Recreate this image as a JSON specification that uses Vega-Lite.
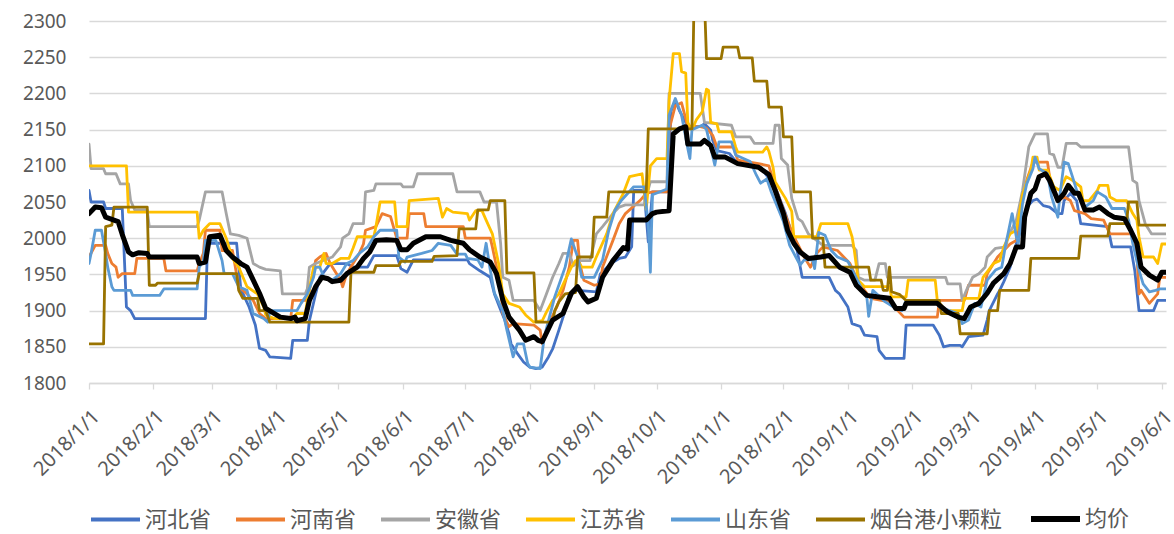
{
  "$schema": "https://vega.github.io/schema/vega-lite/v6.json",
  "width": 1077,
  "height": 362,
  "autosize": {"type": "none"},
  "padding": {"left": 89, "top": 21, "right": 8, "bottom": 151},
  "background": "#ffffff",
  "datasets": {
    "hebei": [
      {"d": "2018/1/1", "v": 2066}, {"d": "2018/1/2", "v": 2050}, {"d": "2018/1/8", "v": 2050}, {"d": "2018/1/9", "v": 2041},
      {"d": "2018/1/17", "v": 2041}, {"d": "2018/1/19", "v": 1905}, {"d": "2018/1/21", "v": 1900}, {"d": "2018/1/23", "v": 1889},
      {"d": "2018/2/26", "v": 1889}, {"d": "2018/2/27", "v": 1993}, {"d": "2018/3/13", "v": 1993}, {"d": "2018/3/15", "v": 1930},
      {"d": "2018/3/19", "v": 1905}, {"d": "2018/3/22", "v": 1880}, {"d": "2018/3/24", "v": 1848}, {"d": "2018/3/27", "v": 1845},
      {"d": "2018/3/29", "v": 1836}, {"d": "2018/4/8", "v": 1834}, {"d": "2018/4/9", "v": 1859}, {"d": "2018/4/16", "v": 1859},
      {"d": "2018/4/17", "v": 1886}, {"d": "2018/4/20", "v": 1923}, {"d": "2018/4/22", "v": 1946}, {"d": "2018/4/27", "v": 1965},
      {"d": "2018/5/5", "v": 1965}, {"d": "2018/5/8", "v": 1960}, {"d": "2018/5/15", "v": 1960}, {"d": "2018/5/18", "v": 1976},
      {"d": "2018/5/29", "v": 1976}, {"d": "2018/5/31", "v": 1958}, {"d": "2018/6/3", "v": 1953}, {"d": "2018/6/6", "v": 1970},
      {"d": "2018/7/2", "v": 1970}, {"d": "2018/7/3", "v": 1965}, {"d": "2018/7/8", "v": 1955}, {"d": "2018/7/13", "v": 1946},
      {"d": "2018/7/15", "v": 1923}, {"d": "2018/7/18", "v": 1901}, {"d": "2018/7/20", "v": 1887}, {"d": "2018/7/22", "v": 1868},
      {"d": "2018/7/23", "v": 1854}, {"d": "2018/7/26", "v": 1841}, {"d": "2018/7/29", "v": 1829}, {"d": "2018/8/1", "v": 1822},
      {"d": "2018/8/4", "v": 1820}, {"d": "2018/8/7", "v": 1822}, {"d": "2018/8/10", "v": 1836}, {"d": "2018/8/12", "v": 1847},
      {"d": "2018/8/15", "v": 1873}, {"d": "2018/8/17", "v": 1891}, {"d": "2018/8/20", "v": 1923}, {"d": "2018/8/24", "v": 1928},
      {"d": "2018/9/2", "v": 1926}, {"d": "2018/9/4", "v": 1951}, {"d": "2018/9/9", "v": 1965}, {"d": "2018/9/13", "v": 1972},
      {"d": "2018/9/16", "v": 1974}, {"d": "2018/9/19", "v": 1988}, {"d": "2018/9/20", "v": 2066}, {"d": "2018/9/25", "v": 2066},
      {"d": "2018/9/27", "v": 1995}, {"d": "2018/9/29", "v": 2064}, {"d": "2018/10/6", "v": 2064}, {"d": "2018/10/8", "v": 2176},
      {"d": "2018/10/10", "v": 2190}, {"d": "2018/10/12", "v": 2176}, {"d": "2018/10/15", "v": 2160}, {"d": "2018/10/17", "v": 2154},
      {"d": "2018/10/22", "v": 2154}, {"d": "2018/10/24", "v": 2158}, {"d": "2018/10/27", "v": 2149}, {"d": "2018/10/28", "v": 2135},
      {"d": "2018/10/30", "v": 2121}, {"d": "2018/11/5", "v": 2117}, {"d": "2018/11/9", "v": 2103}, {"d": "2018/11/20", "v": 2098},
      {"d": "2018/11/27", "v": 2071}, {"d": "2018/12/2", "v": 2034}, {"d": "2018/12/4", "v": 2016}, {"d": "2018/12/7", "v": 1992},
      {"d": "2018/12/10", "v": 1946}, {"d": "2018/12/23", "v": 1946}, {"d": "2018/12/26", "v": 1928}, {"d": "2018/12/28", "v": 1923},
      {"d": "2019/1/1", "v": 1905}, {"d": "2019/1/3", "v": 1882}, {"d": "2019/1/7", "v": 1878}, {"d": "2019/1/9", "v": 1866},
      {"d": "2019/1/15", "v": 1864}, {"d": "2019/1/16", "v": 1845}, {"d": "2019/1/19", "v": 1834}, {"d": "2019/1/28", "v": 1834},
      {"d": "2019/1/29", "v": 1880}, {"d": "2019/2/11", "v": 1880}, {"d": "2019/2/14", "v": 1866}, {"d": "2019/2/16", "v": 1850},
      {"d": "2019/2/19", "v": 1852}, {"d": "2019/2/24", "v": 1852}, {"d": "2019/2/25", "v": 1850}, {"d": "2019/2/28", "v": 1864},
      {"d": "2019/3/7", "v": 1866}, {"d": "2019/3/9", "v": 1887}, {"d": "2019/3/10", "v": 1900}, {"d": "2019/3/14", "v": 1923},
      {"d": "2019/3/15", "v": 1928}, {"d": "2019/3/17", "v": 1940}, {"d": "2019/3/20", "v": 1960}, {"d": "2019/3/22", "v": 1983},
      {"d": "2019/3/25", "v": 2011}, {"d": "2019/3/28", "v": 2043}, {"d": "2019/3/31", "v": 2052}, {"d": "2019/4/2", "v": 2054},
      {"d": "2019/4/5", "v": 2045}, {"d": "2019/4/8", "v": 2043}, {"d": "2019/4/12", "v": 2034}, {"d": "2019/4/14", "v": 2034},
      {"d": "2019/4/15", "v": 2052}, {"d": "2019/4/18", "v": 2062}, {"d": "2019/4/21", "v": 2052}, {"d": "2019/4/23", "v": 2020},
      {"d": "2019/5/6", "v": 2016}, {"d": "2019/5/8", "v": 1988}, {"d": "2019/5/17", "v": 1988}, {"d": "2019/5/19", "v": 1955},
      {"d": "2019/5/21", "v": 1900}, {"d": "2019/5/28", "v": 1900}, {"d": "2019/5/30", "v": 1914}, {"d": "2019/6/3", "v": 1914}
    ],
    "henan": [
      {"d": "2018/1/1", "v": 1974}, {"d": "2018/1/4", "v": 1990}, {"d": "2018/1/9", "v": 1990}, {"d": "2018/1/10", "v": 1979},
      {"d": "2018/1/12", "v": 1965}, {"d": "2018/1/14", "v": 1960}, {"d": "2018/1/15", "v": 1946}, {"d": "2018/1/17", "v": 1951},
      {"d": "2018/1/23", "v": 1951}, {"d": "2018/1/24", "v": 1972}, {"d": "2018/2/6", "v": 1972}, {"d": "2018/2/7", "v": 1955},
      {"d": "2018/2/22", "v": 1955}, {"d": "2018/2/23", "v": 1965}, {"d": "2018/2/25", "v": 1979}, {"d": "2018/2/26", "v": 2011},
      {"d": "2018/3/5", "v": 2011}, {"d": "2018/3/6", "v": 1983}, {"d": "2018/3/11", "v": 1983}, {"d": "2018/3/14", "v": 1933},
      {"d": "2018/3/18", "v": 1923}, {"d": "2018/3/21", "v": 1914}, {"d": "2018/3/24", "v": 1896}, {"d": "2018/3/27", "v": 1889},
      {"d": "2018/4/8", "v": 1889}, {"d": "2018/4/9", "v": 1914}, {"d": "2018/4/16", "v": 1914}, {"d": "2018/4/17", "v": 1928},
      {"d": "2018/4/20", "v": 1969}, {"d": "2018/4/22", "v": 1974}, {"d": "2018/4/25", "v": 1979}, {"d": "2018/4/27", "v": 1965},
      {"d": "2018/5/2", "v": 1942}, {"d": "2018/5/3", "v": 1933}, {"d": "2018/5/5", "v": 1951}, {"d": "2018/5/8", "v": 1965},
      {"d": "2018/5/11", "v": 1979}, {"d": "2018/5/13", "v": 1992}, {"d": "2018/5/14", "v": 2011}, {"d": "2018/5/19", "v": 2016},
      {"d": "2018/5/22", "v": 2034}, {"d": "2018/5/26", "v": 2030}, {"d": "2018/5/29", "v": 2000}, {"d": "2018/6/3", "v": 2000},
      {"d": "2018/6/4", "v": 2034}, {"d": "2018/6/11", "v": 2034}, {"d": "2018/6/12", "v": 2016}, {"d": "2018/6/30", "v": 2016},
      {"d": "2018/7/1", "v": 2000}, {"d": "2018/7/13", "v": 2000}, {"d": "2018/7/14", "v": 1988}, {"d": "2018/7/18", "v": 1933},
      {"d": "2018/7/19", "v": 1896}, {"d": "2018/7/22", "v": 1878}, {"d": "2018/7/24", "v": 1882}, {"d": "2018/8/3", "v": 1880},
      {"d": "2018/8/6", "v": 1873}, {"d": "2018/8/7", "v": 1854}, {"d": "2018/8/9", "v": 1869}, {"d": "2018/8/11", "v": 1887},
      {"d": "2018/8/14", "v": 1905}, {"d": "2018/8/17", "v": 1928}, {"d": "2018/8/20", "v": 1960}, {"d": "2018/8/22", "v": 1997},
      {"d": "2018/8/24", "v": 1997}, {"d": "2018/8/25", "v": 1965}, {"d": "2018/8/27", "v": 1942}, {"d": "2018/9/1", "v": 1935},
      {"d": "2018/9/4", "v": 1937}, {"d": "2018/9/5", "v": 1960}, {"d": "2018/9/10", "v": 1997}, {"d": "2018/9/13", "v": 2020},
      {"d": "2018/9/16", "v": 2034}, {"d": "2018/9/23", "v": 2052}, {"d": "2018/9/26", "v": 2062}, {"d": "2018/9/29", "v": 2064},
      {"d": "2018/10/6", "v": 2064}, {"d": "2018/10/7", "v": 2150}, {"d": "2018/10/10", "v": 2183}, {"d": "2018/10/13", "v": 2187},
      {"d": "2018/10/16", "v": 2154}, {"d": "2018/10/22", "v": 2154}, {"d": "2018/10/25", "v": 2152}, {"d": "2018/10/28", "v": 2142},
      {"d": "2018/10/30", "v": 2126}, {"d": "2018/11/7", "v": 2126}, {"d": "2018/11/9", "v": 2108}, {"d": "2018/11/19", "v": 2103},
      {"d": "2018/11/24", "v": 2100}, {"d": "2018/11/27", "v": 2071}, {"d": "2018/12/1", "v": 2039}, {"d": "2018/12/4", "v": 2016},
      {"d": "2018/12/7", "v": 1997}, {"d": "2018/12/11", "v": 1974}, {"d": "2018/12/14", "v": 1960}, {"d": "2018/12/17", "v": 1979},
      {"d": "2018/12/20", "v": 1988}, {"d": "2018/12/27", "v": 1983}, {"d": "2019/1/2", "v": 1965}, {"d": "2019/1/5", "v": 1946},
      {"d": "2019/1/9", "v": 1928}, {"d": "2019/1/12", "v": 1917}, {"d": "2019/1/21", "v": 1912}, {"d": "2019/1/28", "v": 1891},
      {"d": "2019/2/13", "v": 1891}, {"d": "2019/2/14", "v": 1914}, {"d": "2019/2/26", "v": 1914}, {"d": "2019/2/28", "v": 1935},
      {"d": "2019/3/8", "v": 1935}, {"d": "2019/3/9", "v": 1951}, {"d": "2019/3/14", "v": 1974}, {"d": "2019/3/20", "v": 1992},
      {"d": "2019/3/23", "v": 1997}, {"d": "2019/3/25", "v": 2043}, {"d": "2019/3/28", "v": 2080}, {"d": "2019/3/31", "v": 2105},
      {"d": "2019/4/7", "v": 2105}, {"d": "2019/4/8", "v": 2085}, {"d": "2019/4/12", "v": 2052}, {"d": "2019/4/15", "v": 2057},
      {"d": "2019/4/18", "v": 2052}, {"d": "2019/4/20", "v": 2038}, {"d": "2019/4/25", "v": 2034}, {"d": "2019/4/28", "v": 2027},
      {"d": "2019/5/4", "v": 2025}, {"d": "2019/5/7", "v": 2006}, {"d": "2019/5/18", "v": 2006}, {"d": "2019/5/20", "v": 1979},
      {"d": "2019/5/21", "v": 1923}, {"d": "2019/5/22", "v": 1928}, {"d": "2019/5/26", "v": 1910}, {"d": "2019/5/30", "v": 1923},
      {"d": "2019/5/31", "v": 1946}, {"d": "2019/6/3", "v": 1946}
    ],
    "anhui": [
      {"d": "2018/1/1", "v": 2130}, {"d": "2018/1/2", "v": 2096}, {"d": "2018/1/8", "v": 2096}, {"d": "2018/1/9", "v": 2089},
      {"d": "2018/1/14", "v": 2089}, {"d": "2018/1/16", "v": 2075}, {"d": "2018/1/20", "v": 2075}, {"d": "2018/1/21", "v": 2052},
      {"d": "2018/1/23", "v": 2039}, {"d": "2018/1/29", "v": 2039}, {"d": "2018/1/30", "v": 2016}, {"d": "2018/2/22", "v": 2016},
      {"d": "2018/2/23", "v": 2025}, {"d": "2018/2/26", "v": 2064}, {"d": "2018/3/6", "v": 2064}, {"d": "2018/3/8", "v": 2034},
      {"d": "2018/3/10", "v": 2006}, {"d": "2018/3/14", "v": 2004}, {"d": "2018/3/18", "v": 2000}, {"d": "2018/3/21", "v": 1965},
      {"d": "2018/3/24", "v": 1960}, {"d": "2018/3/27", "v": 1957}, {"d": "2018/4/3", "v": 1955}, {"d": "2018/4/4", "v": 1923},
      {"d": "2018/4/15", "v": 1923}, {"d": "2018/4/16", "v": 1930}, {"d": "2018/4/17", "v": 1960}, {"d": "2018/4/20", "v": 1965},
      {"d": "2018/4/28", "v": 1974}, {"d": "2018/5/2", "v": 1988}, {"d": "2018/5/3", "v": 2000}, {"d": "2018/5/6", "v": 2006},
      {"d": "2018/5/8", "v": 2020}, {"d": "2018/5/13", "v": 2020}, {"d": "2018/5/14", "v": 2064}, {"d": "2018/5/18", "v": 2066},
      {"d": "2018/5/19", "v": 2075}, {"d": "2018/5/31", "v": 2075}, {"d": "2018/6/1", "v": 2071}, {"d": "2018/6/6", "v": 2071},
      {"d": "2018/6/8", "v": 2089}, {"d": "2018/6/25", "v": 2089}, {"d": "2018/6/27", "v": 2064}, {"d": "2018/7/8", "v": 2064},
      {"d": "2018/7/10", "v": 2050}, {"d": "2018/7/16", "v": 2050}, {"d": "2018/7/18", "v": 1992}, {"d": "2018/7/19", "v": 1946},
      {"d": "2018/7/22", "v": 1942}, {"d": "2018/7/24", "v": 1914}, {"d": "2018/8/3", "v": 1914}, {"d": "2018/8/6", "v": 1900},
      {"d": "2018/8/9", "v": 1923}, {"d": "2018/8/12", "v": 1946}, {"d": "2018/8/15", "v": 1965}, {"d": "2018/8/17", "v": 1979},
      {"d": "2018/8/20", "v": 1979}, {"d": "2018/8/22", "v": 1962}, {"d": "2018/8/25", "v": 1969}, {"d": "2018/8/30", "v": 1969},
      {"d": "2018/9/2", "v": 2006}, {"d": "2018/9/5", "v": 2016}, {"d": "2018/9/10", "v": 2034}, {"d": "2018/9/13", "v": 2043},
      {"d": "2018/9/16", "v": 2046}, {"d": "2018/9/25", "v": 2046}, {"d": "2018/9/28", "v": 2078}, {"d": "2018/10/6", "v": 2078},
      {"d": "2018/10/7", "v": 2200}, {"d": "2018/10/22", "v": 2200}, {"d": "2018/10/23", "v": 2180}, {"d": "2018/10/24", "v": 2160},
      {"d": "2018/11/6", "v": 2156}, {"d": "2018/11/8", "v": 2140}, {"d": "2018/11/15", "v": 2140}, {"d": "2018/11/17", "v": 2131},
      {"d": "2018/11/26", "v": 2131}, {"d": "2018/11/27", "v": 2156}, {"d": "2018/11/29", "v": 2156}, {"d": "2018/11/30", "v": 2110},
      {"d": "2018/12/3", "v": 2101}, {"d": "2018/12/5", "v": 2055}, {"d": "2018/12/8", "v": 2027}, {"d": "2018/12/10", "v": 2023},
      {"d": "2018/12/13", "v": 2006}, {"d": "2018/12/20", "v": 1990}, {"d": "2019/1/3", "v": 1990}, {"d": "2019/1/5", "v": 1983},
      {"d": "2019/1/6", "v": 1946}, {"d": "2019/1/9", "v": 1942}, {"d": "2019/1/14", "v": 1942}, {"d": "2019/1/16", "v": 1965},
      {"d": "2019/1/19", "v": 1965}, {"d": "2019/1/20", "v": 1946}, {"d": "2019/2/17", "v": 1946}, {"d": "2019/2/18", "v": 1937},
      {"d": "2019/2/24", "v": 1937}, {"d": "2019/2/25", "v": 1914}, {"d": "2019/2/27", "v": 1928}, {"d": "2019/3/2", "v": 1946},
      {"d": "2019/3/5", "v": 1951}, {"d": "2019/3/8", "v": 1960}, {"d": "2019/3/9", "v": 1974}, {"d": "2019/3/13", "v": 1986},
      {"d": "2019/3/18", "v": 1988}, {"d": "2019/3/19", "v": 2002}, {"d": "2019/3/23", "v": 2025}, {"d": "2019/3/26", "v": 2066},
      {"d": "2019/3/29", "v": 2126}, {"d": "2019/4/1", "v": 2144}, {"d": "2019/4/7", "v": 2144}, {"d": "2019/4/8", "v": 2117},
      {"d": "2019/4/10", "v": 2115}, {"d": "2019/4/12", "v": 2098}, {"d": "2019/4/14", "v": 2098}, {"d": "2019/4/16", "v": 2131},
      {"d": "2019/4/21", "v": 2131}, {"d": "2019/4/23", "v": 2126}, {"d": "2019/5/16", "v": 2126}, {"d": "2019/5/18", "v": 2080},
      {"d": "2019/5/20", "v": 2076}, {"d": "2019/5/21", "v": 2052}, {"d": "2019/5/24", "v": 2020}, {"d": "2019/5/27", "v": 2006},
      {"d": "2019/6/3", "v": 2006}
    ],
    "jiangsu": [
      {"d": "2018/1/1", "v": 2100}, {"d": "2018/1/19", "v": 2100}, {"d": "2018/1/20", "v": 2036}, {"d": "2018/2/22", "v": 2036},
      {"d": "2018/2/23", "v": 2000}, {"d": "2018/2/25", "v": 2011}, {"d": "2018/2/28", "v": 2020}, {"d": "2018/3/5", "v": 2020},
      {"d": "2018/3/8", "v": 2000}, {"d": "2018/3/11", "v": 1972}, {"d": "2018/3/14", "v": 1960}, {"d": "2018/3/18", "v": 1933},
      {"d": "2018/3/23", "v": 1923}, {"d": "2018/3/26", "v": 1905}, {"d": "2018/3/27", "v": 1894}, {"d": "2018/3/31", "v": 1889},
      {"d": "2018/4/9", "v": 1889}, {"d": "2018/4/11", "v": 1896}, {"d": "2018/4/15", "v": 1896}, {"d": "2018/4/16", "v": 1914},
      {"d": "2018/4/19", "v": 1960}, {"d": "2018/4/22", "v": 1960}, {"d": "2018/4/24", "v": 1979}, {"d": "2018/4/25", "v": 1965},
      {"d": "2018/4/28", "v": 1965}, {"d": "2018/5/2", "v": 1972}, {"d": "2018/5/6", "v": 1972}, {"d": "2018/5/8", "v": 1986},
      {"d": "2018/5/10", "v": 2002}, {"d": "2018/5/18", "v": 2002}, {"d": "2018/5/19", "v": 2016}, {"d": "2018/5/21", "v": 2050},
      {"d": "2018/5/28", "v": 2050}, {"d": "2018/5/29", "v": 2016}, {"d": "2018/6/3", "v": 2016}, {"d": "2018/6/4", "v": 2052},
      {"d": "2018/6/18", "v": 2055}, {"d": "2018/6/20", "v": 2029}, {"d": "2018/6/22", "v": 2041}, {"d": "2018/6/25", "v": 2036},
      {"d": "2018/7/2", "v": 2034}, {"d": "2018/7/3", "v": 2025}, {"d": "2018/7/6", "v": 2038}, {"d": "2018/7/9", "v": 2038},
      {"d": "2018/7/11", "v": 2025}, {"d": "2018/7/14", "v": 2006}, {"d": "2018/7/17", "v": 1965}, {"d": "2018/7/19", "v": 1923},
      {"d": "2018/7/22", "v": 1910}, {"d": "2018/7/27", "v": 1905}, {"d": "2018/7/30", "v": 1894}, {"d": "2018/8/3", "v": 1884},
      {"d": "2018/8/7", "v": 1886}, {"d": "2018/8/9", "v": 1898}, {"d": "2018/8/12", "v": 1914}, {"d": "2018/8/15", "v": 1923},
      {"d": "2018/8/18", "v": 1942}, {"d": "2018/8/21", "v": 1960}, {"d": "2018/8/23", "v": 1969}, {"d": "2018/8/25", "v": 1965},
      {"d": "2018/8/26", "v": 1960}, {"d": "2018/8/31", "v": 1960}, {"d": "2018/9/2", "v": 1974}, {"d": "2018/9/7", "v": 2006},
      {"d": "2018/9/10", "v": 2034}, {"d": "2018/9/15", "v": 2062}, {"d": "2018/9/18", "v": 2085}, {"d": "2018/9/24", "v": 2089},
      {"d": "2018/9/26", "v": 2040}, {"d": "2018/9/28", "v": 2100}, {"d": "2018/10/1", "v": 2110}, {"d": "2018/10/6", "v": 2110},
      {"d": "2018/10/7", "v": 2190}, {"d": "2018/10/9", "v": 2255}, {"d": "2018/10/12", "v": 2255}, {"d": "2018/10/13", "v": 2230},
      {"d": "2018/10/15", "v": 2228}, {"d": "2018/10/16", "v": 2160}, {"d": "2018/10/18", "v": 2149}, {"d": "2018/10/20", "v": 2163},
      {"d": "2018/10/23", "v": 2175}, {"d": "2018/10/25", "v": 2206}, {"d": "2018/10/26", "v": 2204}, {"d": "2018/10/27", "v": 2160},
      {"d": "2018/10/30", "v": 2158}, {"d": "2018/10/31", "v": 2147}, {"d": "2018/11/6", "v": 2147}, {"d": "2018/11/8", "v": 2126},
      {"d": "2018/11/9", "v": 2119}, {"d": "2018/11/21", "v": 2119}, {"d": "2018/11/23", "v": 2126}, {"d": "2018/11/24", "v": 2120},
      {"d": "2018/11/26", "v": 2098}, {"d": "2018/11/27", "v": 2078}, {"d": "2018/12/2", "v": 2055}, {"d": "2018/12/5", "v": 2037},
      {"d": "2018/12/6", "v": 2002}, {"d": "2018/12/17", "v": 2002}, {"d": "2018/12/19", "v": 2020}, {"d": "2019/1/1", "v": 2020},
      {"d": "2019/1/3", "v": 2002}, {"d": "2019/1/4", "v": 1985}, {"d": "2019/1/6", "v": 1942}, {"d": "2019/1/9", "v": 1933},
      {"d": "2019/1/21", "v": 1933}, {"d": "2019/1/22", "v": 1919}, {"d": "2019/1/29", "v": 1919}, {"d": "2019/1/30", "v": 1942},
      {"d": "2019/2/12", "v": 1942}, {"d": "2019/2/13", "v": 1914}, {"d": "2019/2/17", "v": 1900}, {"d": "2019/2/25", "v": 1900},
      {"d": "2019/2/26", "v": 1917}, {"d": "2019/3/5", "v": 1917}, {"d": "2019/3/7", "v": 1946}, {"d": "2019/3/12", "v": 1965},
      {"d": "2019/3/15", "v": 1969}, {"d": "2019/3/17", "v": 1988}, {"d": "2019/3/20", "v": 2006}, {"d": "2019/3/23", "v": 2011},
      {"d": "2019/3/26", "v": 2060}, {"d": "2019/3/30", "v": 2094}, {"d": "2019/3/31", "v": 2112}, {"d": "2019/4/2", "v": 2112},
      {"d": "2019/4/3", "v": 2094}, {"d": "2019/4/7", "v": 2094}, {"d": "2019/4/10", "v": 2071}, {"d": "2019/4/13", "v": 2066},
      {"d": "2019/4/16", "v": 2085}, {"d": "2019/4/19", "v": 2080}, {"d": "2019/4/23", "v": 2071}, {"d": "2019/4/24", "v": 2052},
      {"d": "2019/4/27", "v": 2052}, {"d": "2019/5/1", "v": 2066}, {"d": "2019/5/2", "v": 2073}, {"d": "2019/5/6", "v": 2073},
      {"d": "2019/5/7", "v": 2057}, {"d": "2019/5/10", "v": 2052}, {"d": "2019/5/15", "v": 2052}, {"d": "2019/5/18", "v": 2034},
      {"d": "2019/5/20", "v": 2025}, {"d": "2019/5/21", "v": 2002}, {"d": "2019/5/23", "v": 1974}, {"d": "2019/5/28", "v": 1974},
      {"d": "2019/5/30", "v": 1965}, {"d": "2019/6/1", "v": 1992}, {"d": "2019/6/3", "v": 1992}
    ],
    "shandong": [
      {"d": "2018/1/1", "v": 1965}, {"d": "2018/1/2", "v": 1979}, {"d": "2018/1/4", "v": 2011}, {"d": "2018/1/7", "v": 2011},
      {"d": "2018/1/9", "v": 1979}, {"d": "2018/1/10", "v": 1960}, {"d": "2018/1/12", "v": 1933}, {"d": "2018/1/13", "v": 1928},
      {"d": "2018/1/21", "v": 1928}, {"d": "2018/1/22", "v": 1921}, {"d": "2018/2/4", "v": 1921}, {"d": "2018/2/6", "v": 1930},
      {"d": "2018/2/22", "v": 1930}, {"d": "2018/2/23", "v": 1960}, {"d": "2018/2/25", "v": 1969}, {"d": "2018/2/26", "v": 1997},
      {"d": "2018/3/3", "v": 1997}, {"d": "2018/3/6", "v": 1969}, {"d": "2018/3/7", "v": 1951}, {"d": "2018/3/11", "v": 1951},
      {"d": "2018/3/14", "v": 1933}, {"d": "2018/3/18", "v": 1928}, {"d": "2018/3/21", "v": 1896}, {"d": "2018/3/26", "v": 1889},
      {"d": "2018/3/28", "v": 1884}, {"d": "2018/3/29", "v": 1900}, {"d": "2018/4/11", "v": 1900}, {"d": "2018/4/13", "v": 1910},
      {"d": "2018/4/16", "v": 1923}, {"d": "2018/4/19", "v": 1946}, {"d": "2018/4/20", "v": 1960}, {"d": "2018/4/22", "v": 1960},
      {"d": "2018/4/24", "v": 1946}, {"d": "2018/4/28", "v": 1942}, {"d": "2018/5/2", "v": 1951}, {"d": "2018/5/5", "v": 1965},
      {"d": "2018/5/8", "v": 1969}, {"d": "2018/5/11", "v": 1979}, {"d": "2018/5/15", "v": 1988}, {"d": "2018/5/18", "v": 2002},
      {"d": "2018/5/21", "v": 2011}, {"d": "2018/5/29", "v": 2011}, {"d": "2018/5/30", "v": 1974}, {"d": "2018/6/2", "v": 1967},
      {"d": "2018/6/3", "v": 1974}, {"d": "2018/6/10", "v": 1979}, {"d": "2018/6/15", "v": 1983}, {"d": "2018/6/18", "v": 1993},
      {"d": "2018/6/24", "v": 1990}, {"d": "2018/6/27", "v": 1978}, {"d": "2018/7/1", "v": 1978}, {"d": "2018/7/2", "v": 1972},
      {"d": "2018/7/7", "v": 1970}, {"d": "2018/7/9", "v": 1960}, {"d": "2018/7/11", "v": 1993}, {"d": "2018/7/13", "v": 1956},
      {"d": "2018/7/15", "v": 1924}, {"d": "2018/7/19", "v": 1900}, {"d": "2018/7/21", "v": 1873}, {"d": "2018/7/24", "v": 1836},
      {"d": "2018/7/26", "v": 1854}, {"d": "2018/7/29", "v": 1854}, {"d": "2018/7/31", "v": 1827}, {"d": "2018/8/1", "v": 1822},
      {"d": "2018/8/6", "v": 1820}, {"d": "2018/8/8", "v": 1864}, {"d": "2018/8/13", "v": 1919}, {"d": "2018/8/18", "v": 1960},
      {"d": "2018/8/21", "v": 1999}, {"d": "2018/8/24", "v": 1974}, {"d": "2018/8/26", "v": 1946}, {"d": "2018/9/1", "v": 1946},
      {"d": "2018/9/5", "v": 1970}, {"d": "2018/9/8", "v": 2011}, {"d": "2018/9/11", "v": 2039}, {"d": "2018/9/14", "v": 2052},
      {"d": "2018/9/20", "v": 2071}, {"d": "2018/9/25", "v": 2071}, {"d": "2018/9/27", "v": 2020}, {"d": "2018/9/28", "v": 1953},
      {"d": "2018/9/29", "v": 2060}, {"d": "2018/10/6", "v": 2068}, {"d": "2018/10/7", "v": 2170}, {"d": "2018/10/10", "v": 2193},
      {"d": "2018/10/13", "v": 2170}, {"d": "2018/10/16", "v": 2124}, {"d": "2018/10/17", "v": 2110}, {"d": "2018/10/18", "v": 2150},
      {"d": "2018/10/23", "v": 2156}, {"d": "2018/10/25", "v": 2150}, {"d": "2018/10/29", "v": 2101}, {"d": "2018/10/31", "v": 2133},
      {"d": "2018/11/6", "v": 2133}, {"d": "2018/11/8", "v": 2115}, {"d": "2018/11/15", "v": 2106}, {"d": "2018/11/18", "v": 2087},
      {"d": "2018/11/20", "v": 2076}, {"d": "2018/11/23", "v": 2082}, {"d": "2018/11/25", "v": 2065}, {"d": "2018/12/1", "v": 2023},
      {"d": "2018/12/4", "v": 1990}, {"d": "2018/12/9", "v": 1963}, {"d": "2018/12/11", "v": 1970}, {"d": "2018/12/15", "v": 1970},
      {"d": "2018/12/16", "v": 1958}, {"d": "2018/12/18", "v": 2008}, {"d": "2018/12/21", "v": 2004}, {"d": "2018/12/24", "v": 1983},
      {"d": "2018/12/27", "v": 1974}, {"d": "2019/1/1", "v": 1968}, {"d": "2019/1/4", "v": 1951}, {"d": "2019/1/8", "v": 1928},
      {"d": "2019/1/10", "v": 1922}, {"d": "2019/1/11", "v": 1892}, {"d": "2019/1/13", "v": 1928}, {"d": "2019/1/16", "v": 1920},
      {"d": "2019/1/19", "v": 1912}, {"d": "2019/1/23", "v": 1905}, {"d": "2019/1/27", "v": 1900}, {"d": "2019/1/29", "v": 1914},
      {"d": "2019/2/12", "v": 1914}, {"d": "2019/2/14", "v": 1905}, {"d": "2019/2/23", "v": 1896}, {"d": "2019/2/25", "v": 1882},
      {"d": "2019/2/28", "v": 1887}, {"d": "2019/3/3", "v": 1910}, {"d": "2019/3/6", "v": 1905}, {"d": "2019/3/9", "v": 1942},
      {"d": "2019/3/13", "v": 1956}, {"d": "2019/3/16", "v": 1960}, {"d": "2019/3/18", "v": 1993}, {"d": "2019/3/19", "v": 2006},
      {"d": "2019/3/21", "v": 2034}, {"d": "2019/3/23", "v": 2002}, {"d": "2019/3/24", "v": 1993}, {"d": "2019/3/26", "v": 2048},
      {"d": "2019/3/28", "v": 2075}, {"d": "2019/3/31", "v": 2096}, {"d": "2019/4/1", "v": 2112}, {"d": "2019/4/3", "v": 2096},
      {"d": "2019/4/7", "v": 2089}, {"d": "2019/4/9", "v": 2057}, {"d": "2019/4/12", "v": 2029}, {"d": "2019/4/13", "v": 2060},
      {"d": "2019/4/15", "v": 2105}, {"d": "2019/4/17", "v": 2103}, {"d": "2019/4/19", "v": 2085}, {"d": "2019/4/22", "v": 2057},
      {"d": "2019/4/25", "v": 2043}, {"d": "2019/4/29", "v": 2052}, {"d": "2019/5/1", "v": 2064}, {"d": "2019/5/5", "v": 2057},
      {"d": "2019/5/8", "v": 2041}, {"d": "2019/5/14", "v": 2041}, {"d": "2019/5/16", "v": 2025}, {"d": "2019/5/18", "v": 1993},
      {"d": "2019/5/21", "v": 1956}, {"d": "2019/5/23", "v": 1937}, {"d": "2019/5/26", "v": 1926}, {"d": "2019/5/29", "v": 1928},
      {"d": "2019/5/31", "v": 1930}, {"d": "2019/6/3", "v": 1930}
    ],
    "yantai": [
      {"d": "2018/1/1", "v": 1854}, {"d": "2018/1/8", "v": 1854}, {"d": "2018/1/9", "v": 2016}, {"d": "2018/1/12", "v": 2018},
      {"d": "2018/1/13", "v": 2043}, {"d": "2018/1/29", "v": 2043}, {"d": "2018/1/30", "v": 1935}, {"d": "2018/2/2", "v": 1935},
      {"d": "2018/2/3", "v": 1938}, {"d": "2018/2/22", "v": 1938}, {"d": "2018/2/23", "v": 1951}, {"d": "2018/3/13", "v": 1951},
      {"d": "2018/3/14", "v": 1928}, {"d": "2018/3/16", "v": 1917}, {"d": "2018/3/23", "v": 1917}, {"d": "2018/3/24", "v": 1900},
      {"d": "2018/3/27", "v": 1900}, {"d": "2018/3/29", "v": 1884}, {"d": "2018/5/6", "v": 1884}, {"d": "2018/5/7", "v": 1953},
      {"d": "2018/5/18", "v": 1953}, {"d": "2018/5/19", "v": 1962}, {"d": "2018/5/30", "v": 1962}, {"d": "2018/5/31", "v": 1968},
      {"d": "2018/6/15", "v": 1968}, {"d": "2018/6/16", "v": 1975}, {"d": "2018/6/27", "v": 1976}, {"d": "2018/6/28", "v": 2013},
      {"d": "2018/7/6", "v": 2013}, {"d": "2018/7/7", "v": 2039}, {"d": "2018/7/12", "v": 2039}, {"d": "2018/7/13", "v": 2052},
      {"d": "2018/7/20", "v": 2052}, {"d": "2018/7/21", "v": 1952}, {"d": "2018/8/3", "v": 1952}, {"d": "2018/8/4", "v": 1884},
      {"d": "2018/8/12", "v": 1884}, {"d": "2018/8/13", "v": 1900}, {"d": "2018/8/15", "v": 1912}, {"d": "2018/8/18", "v": 1923},
      {"d": "2018/8/23", "v": 1925}, {"d": "2018/8/24", "v": 1974}, {"d": "2018/8/31", "v": 1974}, {"d": "2018/9/1", "v": 2029},
      {"d": "2018/9/7", "v": 2029}, {"d": "2018/9/8", "v": 2064}, {"d": "2018/9/26", "v": 2064}, {"d": "2018/9/27", "v": 2151},
      {"d": "2018/10/18", "v": 2151}, {"d": "2018/10/19", "v": 2330}, {"d": "2018/10/24", "v": 2330}, {"d": "2018/10/25", "v": 2248},
      {"d": "2018/11/1", "v": 2248}, {"d": "2018/11/2", "v": 2264}, {"d": "2018/11/9", "v": 2264}, {"d": "2018/11/10", "v": 2249},
      {"d": "2018/11/16", "v": 2249}, {"d": "2018/11/17", "v": 2217}, {"d": "2018/11/23", "v": 2217}, {"d": "2018/11/24", "v": 2181},
      {"d": "2018/11/30", "v": 2181}, {"d": "2018/12/1", "v": 2140}, {"d": "2018/12/5", "v": 2140}, {"d": "2018/12/6", "v": 2064},
      {"d": "2018/12/14", "v": 2064}, {"d": "2018/12/15", "v": 2000}, {"d": "2018/12/20", "v": 2000}, {"d": "2018/12/21", "v": 1960},
      {"d": "2019/1/11", "v": 1960}, {"d": "2019/1/12", "v": 1942}, {"d": "2019/1/17", "v": 1942}, {"d": "2019/1/18", "v": 1928},
      {"d": "2019/1/20", "v": 1928}, {"d": "2019/1/21", "v": 1960}, {"d": "2019/1/22", "v": 1926}, {"d": "2019/1/26", "v": 1922},
      {"d": "2019/1/29", "v": 1914}, {"d": "2019/2/14", "v": 1914}, {"d": "2019/2/15", "v": 1896}, {"d": "2019/2/23", "v": 1896},
      {"d": "2019/2/24", "v": 1868}, {"d": "2019/3/9", "v": 1868}, {"d": "2019/3/10", "v": 1900}, {"d": "2019/3/14", "v": 1900},
      {"d": "2019/3/15", "v": 1928}, {"d": "2019/3/29", "v": 1928}, {"d": "2019/3/30", "v": 1972}, {"d": "2019/4/22", "v": 1972},
      {"d": "2019/4/23", "v": 2003}, {"d": "2019/5/6", "v": 2003}, {"d": "2019/5/7", "v": 2020}, {"d": "2019/5/15", "v": 2020},
      {"d": "2019/5/16", "v": 2050}, {"d": "2019/5/20", "v": 2050}, {"d": "2019/5/21", "v": 2018}, {"d": "2019/6/3", "v": 2018}
    ],
    "avg": [
      {"d": "2018/1/1", "v": 2034}, {"d": "2018/1/4", "v": 2043}, {"d": "2018/1/7", "v": 2042}, {"d": "2018/1/9", "v": 2029},
      {"d": "2018/1/13", "v": 2025}, {"d": "2018/1/15", "v": 2023}, {"d": "2018/1/17", "v": 2005}, {"d": "2018/1/20", "v": 1981},
      {"d": "2018/1/22", "v": 1977}, {"d": "2018/1/25", "v": 1980}, {"d": "2018/1/29", "v": 1979}, {"d": "2018/1/30", "v": 1974},
      {"d": "2018/2/22", "v": 1974}, {"d": "2018/2/23", "v": 1965}, {"d": "2018/2/26", "v": 1967}, {"d": "2018/2/28", "v": 2002},
      {"d": "2018/3/5", "v": 2004}, {"d": "2018/3/8", "v": 1983}, {"d": "2018/3/11", "v": 1974}, {"d": "2018/3/15", "v": 1965},
      {"d": "2018/3/18", "v": 1960}, {"d": "2018/3/21", "v": 1942}, {"d": "2018/3/24", "v": 1924}, {"d": "2018/3/27", "v": 1903},
      {"d": "2018/3/30", "v": 1898}, {"d": "2018/4/3", "v": 1891}, {"d": "2018/4/8", "v": 1889}, {"d": "2018/4/10", "v": 1891},
      {"d": "2018/4/11", "v": 1886}, {"d": "2018/4/15", "v": 1889}, {"d": "2018/4/17", "v": 1914}, {"d": "2018/4/20", "v": 1933},
      {"d": "2018/4/23", "v": 1946}, {"d": "2018/4/26", "v": 1944}, {"d": "2018/4/28", "v": 1940}, {"d": "2018/5/2", "v": 1942},
      {"d": "2018/5/5", "v": 1951}, {"d": "2018/5/10", "v": 1960}, {"d": "2018/5/13", "v": 1972}, {"d": "2018/5/16", "v": 1981},
      {"d": "2018/5/19", "v": 1997}, {"d": "2018/5/24", "v": 1998}, {"d": "2018/5/29", "v": 1997}, {"d": "2018/5/31", "v": 1984},
      {"d": "2018/6/3", "v": 1984}, {"d": "2018/6/6", "v": 1993}, {"d": "2018/6/12", "v": 2002}, {"d": "2018/6/19", "v": 2002},
      {"d": "2018/6/24", "v": 1997}, {"d": "2018/6/30", "v": 1993}, {"d": "2018/7/3", "v": 1984}, {"d": "2018/7/8", "v": 1974},
      {"d": "2018/7/13", "v": 1967}, {"d": "2018/7/16", "v": 1951}, {"d": "2018/7/19", "v": 1915}, {"d": "2018/7/22", "v": 1891},
      {"d": "2018/7/27", "v": 1873}, {"d": "2018/7/30", "v": 1859}, {"d": "2018/8/3", "v": 1864}, {"d": "2018/8/5", "v": 1859},
      {"d": "2018/8/7", "v": 1857}, {"d": "2018/8/9", "v": 1869}, {"d": "2018/8/12", "v": 1887}, {"d": "2018/8/17", "v": 1896},
      {"d": "2018/8/21", "v": 1924}, {"d": "2018/8/24", "v": 1933}, {"d": "2018/8/27", "v": 1919}, {"d": "2018/8/29", "v": 1912},
      {"d": "2018/9/2", "v": 1917}, {"d": "2018/9/5", "v": 1946}, {"d": "2018/9/10", "v": 1969}, {"d": "2018/9/15", "v": 1987},
      {"d": "2018/9/17", "v": 1985}, {"d": "2018/9/18", "v": 2025}, {"d": "2018/9/26", "v": 2025}, {"d": "2018/9/29", "v": 2034},
      {"d": "2018/10/1", "v": 2036}, {"d": "2018/10/7", "v": 2038}, {"d": "2018/10/9", "v": 2144}, {"d": "2018/10/12", "v": 2151},
      {"d": "2018/10/15", "v": 2154}, {"d": "2018/10/16", "v": 2130}, {"d": "2018/10/22", "v": 2130}, {"d": "2018/10/24", "v": 2135},
      {"d": "2018/10/27", "v": 2128}, {"d": "2018/10/29", "v": 2112}, {"d": "2018/11/3", "v": 2112}, {"d": "2018/11/9", "v": 2103},
      {"d": "2018/11/19", "v": 2098}, {"d": "2018/11/24", "v": 2088}, {"d": "2018/11/27", "v": 2066}, {"d": "2018/12/1", "v": 2034},
      {"d": "2018/12/3", "v": 2011}, {"d": "2018/12/6", "v": 1993}, {"d": "2018/12/9", "v": 1981}, {"d": "2018/12/13", "v": 1972},
      {"d": "2018/12/19", "v": 1974}, {"d": "2018/12/23", "v": 1976}, {"d": "2018/12/28", "v": 1960}, {"d": "2019/1/2", "v": 1953},
      {"d": "2019/1/5", "v": 1935}, {"d": "2019/1/10", "v": 1921}, {"d": "2019/1/15", "v": 1919}, {"d": "2019/1/21", "v": 1917},
      {"d": "2019/1/24", "v": 1903}, {"d": "2019/1/28", "v": 1903}, {"d": "2019/1/29", "v": 1910}, {"d": "2019/2/13", "v": 1910},
      {"d": "2019/2/18", "v": 1898}, {"d": "2019/2/23", "v": 1891}, {"d": "2019/2/26", "v": 1889}, {"d": "2019/3/1", "v": 1905},
      {"d": "2019/3/5", "v": 1910}, {"d": "2019/3/9", "v": 1924}, {"d": "2019/3/12", "v": 1938}, {"d": "2019/3/17", "v": 1951},
      {"d": "2019/3/20", "v": 1965}, {"d": "2019/3/23", "v": 1988}, {"d": "2019/3/26", "v": 1988}, {"d": "2019/3/27", "v": 2029},
      {"d": "2019/3/30", "v": 2062}, {"d": "2019/4/1", "v": 2068}, {"d": "2019/4/3", "v": 2085}, {"d": "2019/4/6", "v": 2089},
      {"d": "2019/4/8", "v": 2080}, {"d": "2019/4/12", "v": 2052}, {"d": "2019/4/15", "v": 2062}, {"d": "2019/4/17", "v": 2073},
      {"d": "2019/4/20", "v": 2062}, {"d": "2019/4/22", "v": 2062}, {"d": "2019/4/25", "v": 2039}, {"d": "2019/4/29", "v": 2039},
      {"d": "2019/5/2", "v": 2043}, {"d": "2019/5/6", "v": 2034}, {"d": "2019/5/9", "v": 2029}, {"d": "2019/5/14", "v": 2027},
      {"d": "2019/5/17", "v": 2011}, {"d": "2019/5/20", "v": 1993}, {"d": "2019/5/22", "v": 1960}, {"d": "2019/5/26", "v": 1949},
      {"d": "2019/5/30", "v": 1942}, {"d": "2019/6/1", "v": 1953}, {"d": "2019/6/3", "v": 1953}
    ]
  },
  "encoding": {
    "x": {
      "field": "d",
      "type": "temporal",
      "scale": {"domain": [{"year": 2018, "month": 1, "date": 1}, {"year": 2019, "month": 6, "date": 3}]},
      "axis": {
        "title": null,
        "format": "%Y/%-m/%-d",
        "tickCount": {"interval": "month", "step": 1},
        "labelAngle": -45,
        "labelOverlap": false,
        "labelFlush": false,
        "labelBound": false,
        "labelFont": "Noto Sans",
        "labelFontSize": 20,
        "labelColor": "#595959",
        "labelPadding": 17,
        "grid": false,
        "domainColor": "#D9D9D9",
        "domainWidth": 1.3,
        "tickColor": "#D9D9D9",
        "tickWidth": 1.3,
        "tickSize": 6
      }
    },
    "y": {
      "field": "v",
      "type": "quantitative",
      "scale": {"domain": [1800, 2300], "nice": false, "zero": false},
      "axis": {
        "title": null,
        "format": "d",
        "values": [1800, 1850, 1900, 1950, 2000, 2050, 2100, 2150, 2200, 2250, 2300],
        "labelFont": "Noto Sans",
        "labelFontSize": 19,
        "labelColor": "#595959",
        "labelPadding": 23,
        "domain": false,
        "ticks": false,
        "grid": true,
        "gridColor": "#D9D9D9",
        "gridWidth": 1.3
      }
    }
  },
  "layer": [
    {
      "data": {"name": "hebei"},
      "mark": {"type": "line", "strokeWidth": 2.8, "clip": true, "strokeJoin": "round", "strokeCap": "round"},
      "encoding": {
        "color": {
          "datum": "河北省",
          "type": "nominal",
          "scale": {
            "domain": ["河北省", "河南省", "安徽省", "江苏省", "山东省", "烟台港小颗粒", "均价"],
            "range": ["#4472C4", "#ED7D31", "#A5A5A5", "#FFC000", "#5B9BD5", "#997300", "#000000"]
          },
          "legend": {
            "title": null,
            "orient": "none",
            "legendX": 2,
            "legendY": 487,
            "direction": "horizontal",
            "symbolType": "stroke",
            "symbolSize": 2401,
            "symbolStrokeWidth": 4,
            "labelFont": "Noto Sans CJK SC",
            "labelFontSize": 22,
            "labelColor": "#595959",
            "labelOffset": 5,
            "columnPadding": 16,
            "padding": 0,
            "encode": {
              "symbols": {"update": {"x": {"value": 24.5}, "strokeWidth": {"signal": "datum.value === '均价' ? 6 : 4"}}},
              "labels": {"update": {"x": {"value": 54}}}
            }
          }
        }
      }
    },
    {
      "data": {"name": "henan"},
      "mark": {"type": "line", "strokeWidth": 2.8, "clip": true, "strokeJoin": "round", "strokeCap": "round"},
      "encoding": {"color": {"datum": "河南省", "type": "nominal"}}
    },
    {
      "data": {"name": "anhui"},
      "mark": {"type": "line", "strokeWidth": 2.8, "clip": true, "strokeJoin": "round", "strokeCap": "round"},
      "encoding": {"color": {"datum": "安徽省", "type": "nominal"}}
    },
    {
      "data": {"name": "jiangsu"},
      "mark": {"type": "line", "strokeWidth": 2.8, "clip": true, "strokeJoin": "round", "strokeCap": "round"},
      "encoding": {"color": {"datum": "江苏省", "type": "nominal"}}
    },
    {
      "data": {"name": "shandong"},
      "mark": {"type": "line", "strokeWidth": 2.8, "clip": true, "strokeJoin": "round", "strokeCap": "round"},
      "encoding": {"color": {"datum": "山东省", "type": "nominal"}}
    },
    {
      "data": {"name": "yantai"},
      "mark": {"type": "line", "strokeWidth": 2.8, "clip": true, "strokeJoin": "round", "strokeCap": "round"},
      "encoding": {"color": {"datum": "烟台港小颗粒", "type": "nominal"}}
    },
    {
      "data": {"name": "avg"},
      "mark": {"type": "line", "strokeWidth": 5, "clip": true, "strokeJoin": "round", "strokeCap": "round"},
      "encoding": {"color": {"datum": "均价", "type": "nominal"}}
    }
  ],
  "config": {
    "view": {"stroke": null},
    "font": "Noto Sans"
  }
}
